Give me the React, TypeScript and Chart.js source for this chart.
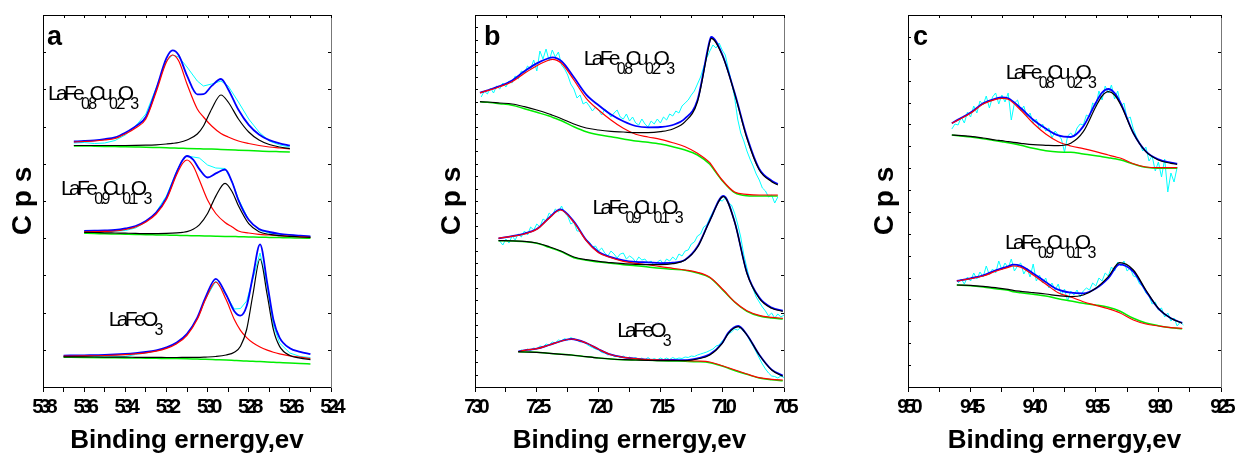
import React, { useEffect, useRef } from 'react';
import { Chart, registerables } from 'chart.js';

Chart.register(...registerables);

const FONT = "'Liberation Sans', Arial, Helvetica, sans-serif";
const X_TITLE = 'Binding ernergy,ev';
const Y_TITLE = 'C p s';
const CANVAS_H = 460;

// ================= Panel a : O 1s =================
const aTicks = [524, 525, 526, 527, 528, 529, 530, 531, 532, 533, 534, 535, 536, 537, 538];
const aTickLabels = [524, 526, 528, 530, 532, 534, 536, 538];

// LaFe0.8Cu0.2O3
const aTopX = [536.5, 536, 535.5, 535, 534.5, 534, 533.5, 533, 532.5, 532, 531.7, 531.4, 531, 530.5, 530.2, 529.8, 529.35, 529, 528.5, 528, 527.5, 527, 526.5, 526];
const aTopRaw = [244, 244.5, 243.5, 244, 246.5, 252, 261, 273, 299, 326, 332, 330, 320, 306, 301, 303, 306, 301, 285, 268, 255, 246, 242, 240];
const aTopEnv = [245.5, 246, 246.7, 247.9, 249.6, 254.3, 260.6, 270, 297.7, 328.8, 336.6, 331.7, 311.4, 292.7, 292.9, 301.1, 308, 297.8, 277.2, 262.1, 252.5, 246.9, 243.7, 241.3];
const aTopP1 = [245, 245.5, 246, 247, 248.5, 253, 259, 268, 295, 325, 332, 326, 303, 278, 270, 261, 253.5, 250, 246, 243.5, 241.5, 240, 239, 238];
const aTopP2 = [241.5, 241.5, 241.5, 241.5, 241.5, 241.5, 241.6, 241.8, 242.2, 243, 243.6, 244.5, 247, 253, 261, 278, 292, 285, 268, 255, 247, 242.5, 240, 238.3];
const aTopBg = [241, 241, 240.8, 240.6, 240.4, 240.2, 240, 239.8, 239.5, 239.2, 239, 238.8, 238.6, 238.3, 238.1, 237.9, 237.5, 237.2, 236.8, 236.4, 236, 235.6, 235.3, 235];

// LaFe0.9Cu0.1O3
const aMidX = [536, 535.5, 535, 534.5, 534, 533.5, 533, 532.5, 532, 531.5, 531.2, 531, 530.7, 530.4, 530, 529.6, 529.15, 528.8, 528.5, 528, 527.5, 527, 526.5, 526, 525.5, 525];
const aMidRaw = [155.5, 155, 155.5, 155.8, 156.5, 159, 165, 175, 191, 216, 228, 231, 230, 229, 222, 219, 218.5, 205, 188, 167, 157, 154, 152.5, 152, 151, 150.5];
const aMidEnv = [156.2, 156.4, 156.6, 157, 158.5, 161, 166, 174.3, 189.2, 214.9, 227.2, 231, 227.4, 217.9, 209.5, 213.6, 217.5, 204.5, 186.9, 167.2, 158.1, 155, 153.2, 152.1, 151.3, 150.6];
const aMidP1 = [155.2, 155.4, 155.6, 156, 157.5, 160, 165, 173, 187.5, 212.5, 224, 227, 221, 207, 187, 173.5, 164.5, 160, 156, 154, 152.6, 152, 151.3, 150.7, 150.2, 149.7];
const aMidP2 = [154.7, 154.5, 154.2, 154, 153.8, 153.6, 153.3, 153.4, 153.6, 154.1, 154.7, 155.4, 157.7, 162.1, 173.5, 190.9, 203.6, 195, 181.2, 163.3, 155.3, 152.6, 151.3, 150.6, 150, 149.6];
const aMidBg = [153.7, 153.5, 153.2, 153.0, 152.8, 152.6, 152.3, 152.1, 151.9, 151.7, 151.5, 151.4, 151.3, 151.2, 151.0, 150.8, 150.6, 150.5, 150.3, 150.1, 149.8, 149.6, 149.4, 149.2, 148.9, 148.7];

// LaFeO3
const aLowX = [537, 536, 535, 534, 533.5, 533, 532.5, 532, 531.5, 531, 530.5, 530.1, 529.6, 529.1, 528.7, 528.4, 528.1, 527.8, 527.45, 527.1, 526.8, 526.5, 526, 525.5, 525];
const aLowRaw = [30.5, 29.8, 31, 30.5, 32.5, 34, 36, 39, 43.5, 52.5, 68.5, 88, 106, 92, 78, 78.5, 86, 108, 134, 101, 62, 44, 34, 30.5, 29.5];
const aLowEnv = [31.4, 31.7, 32.1, 33.1, 33.9, 35, 36.7, 39.6, 44.4, 53.1, 69.4, 89.6, 108.2, 92.5, 75.8, 71.3, 80.9, 110.5, 142.6, 103.9, 67.4, 49.4, 38.8, 35.2, 32.8];
const aLowP1 = [30.9, 31.1, 31.5, 32.4, 33.2, 34.2, 35.8, 38.6, 43.3, 51.7, 67.7, 87.4, 105, 87.4, 67.5, 56.7, 49.4, 44.2, 40, 36.9, 34.8, 33.2, 31.2, 29.8, 28.5];
const aLowP2 = [30.2, 30.1, 29.9, 29.8, 29.7, 29.6, 29.6, 29.5, 29.5, 29.6, 29.6, 29.9, 30.5, 32, 34.8, 40.8, 57.5, 92, 128, 92, 57.3, 40.6, 31.5, 28.9, 27.3];
const aLowBg = [29.7, 29.5, 29.3, 29.1, 29, 28.8, 28.7, 28.5, 28.4, 28.2, 27.9, 27.7, 27.3, 26.9, 26.5, 26.2, 26, 25.7, 25.4, 25, 24.7, 24.4, 23.9, 23.5, 23];

// ================= Panel b : Fe 2p =================
const bTicks = [705, 707.5, 710, 712.5, 715, 717.5, 720, 722.5, 725, 727.5, 730];
const bTickLabels = [705, 710, 715, 720, 725, 730];

const bTopX = [729.6, 729, 728, 727, 726, 725, 724, 723.74, 723, 722, 721, 720, 719, 718, 717, 716, 715, 714, 713, 712, 711, 710.9, 710, 709, 708, 707, 706, 705.5];
const bTopEnv = [294.3, 296.6, 301, 306.6, 315.7, 323.6, 329, 329.7, 325.7, 309.7, 292.4, 281.7, 272.4, 265.7, 261, 259.6, 260, 262, 268.6, 287, 346.9, 350.2, 332.7, 294.4, 250.1, 218, 206.3, 203];
const bTopP1 = [294.3, 296.3, 300.3, 305.3, 313.7, 321.3, 327, 327.7, 323.7, 307, 288.7, 277, 267, 258.7, 252.7, 250, 247.7, 244.3, 240.3, 233.7, 224.3, 222.6, 207, 195, 192.7, 192, 192, 192];
const bTopP2 = [285.3, 285, 284, 283, 280.3, 277, 273, 271.8, 268.3, 263, 259, 257, 255.7, 255, 254.3, 254.3, 255.3, 258, 265.3, 285.3, 345.3, 348.7, 332, 293.7, 248.7, 217, 205.3, 202];
const bTopBg = [285.3, 284.7, 283.3, 281.7, 278.3, 274.7, 271, 269.8, 266.3, 260.3, 255.3, 252.3, 250.3, 248, 246, 244.7, 243, 240.3, 237, 232, 222.7, 221.1, 206.3, 194.3, 191.3, 191, 191, 191];
const bTopRawX = [729.5, 729.25, 729, 728.75, 728.5, 728.25, 728, 727.75, 727.5, 727.25, 727, 726.75, 726.5, 726.25, 726, 725.75, 725.5, 725.25, 725, 724.75, 724.5, 724.25, 724, 723.75, 723.5, 723.25, 723, 722.75, 722.5, 722.25, 722, 721.75, 721.5, 721.25, 721, 720.75, 720.5, 720.25, 720, 719.75, 719.5, 719.25, 719, 718.75, 718.5, 718.25, 718, 717.75, 717.5, 717.25, 717, 716.75, 716.5, 716.25, 716, 715.75, 715.5, 715.25, 715, 714.75, 714.5, 714.25, 714, 713.75, 713.5, 713.25, 713, 712.75, 712.5, 712.25, 712, 711.75, 711.5, 711.25, 711, 710.75, 710.5, 710.25, 710, 709.75, 709.5, 709.25, 709, 708.75, 708.5, 708.25, 708, 707.75, 707.5, 707.25, 707, 706.75, 706.5, 706.25, 706, 705.75, 705.5];
const bTopRaw = [290, 296, 293, 299, 294, 301, 298, 304, 300, 306, 304, 311, 308, 316, 314, 321, 318, 327, 316, 336, 328, 338, 326, 337, 330, 335, 322, 318, 312, 303, 298, 289, 292, 283, 285, 281, 276, 280, 277, 272, 278, 275, 270, 274, 277, 270, 268, 273, 266, 270, 264, 262, 268, 263, 260, 266, 263, 268, 264, 270, 267, 273, 271, 276, 274, 281, 284, 287, 292, 296, 303, 310, 320, 329, 336, 342, 339, 344, 337, 332, 318, 305, 290, 268, 254, 246, 236, 228, 221, 213, 207, 199, 196, 190, 192, 184, 190];

const bMidX = [728.1, 727, 726, 725, 724, 723.1, 722, 721, 720, 719, 718, 717, 716, 715, 714, 713, 712, 711, 709.9, 709, 708, 707, 706, 705.1];
const bMidEnv = [148.7, 150.9, 153.4, 158, 169.3, 177.6, 165.4, 146.9, 135, 129.9, 126.7, 125.1, 124.6, 123.9, 124.3, 127.3, 140.4, 166.7, 191, 165.6, 114.3, 89.4, 79.4, 76.4];
const bMidP1 = [148.7, 150.7, 153, 157.7, 168.7, 177, 164.7, 146.3, 134.3, 129.3, 125.7, 123.7, 122.3, 120.3, 118.7, 117, 114.7, 109.7, 97, 85.3, 76.3, 71.7, 69.7, 68.7];
const bMidP2 = [146.3, 146.2, 145.7, 144, 140.3, 136.3, 130, 127.3, 125.7, 124.3, 123.3, 122.7, 122.3, 122.3, 123.3, 127, 139.7, 166.3, 190.3, 165.3, 113.7, 88.7, 78.7, 75.7];
const bMidBg = [146.3, 146, 145.3, 143.7, 139.7, 135.7, 129.3, 126.7, 125, 123.7, 122.3, 121.3, 120, 118.7, 117.7, 116.7, 114, 109.3, 96.3, 85, 75.7, 71, 69, 68];
const bMidRawX = [728, 727.75, 727.5, 727.25, 727, 726.75, 726.5, 726.25, 726, 725.75, 725.5, 725.25, 725, 724.75, 724.5, 724.25, 724, 723.75, 723.5, 723.25, 723, 722.75, 722.5, 722.25, 722, 721.75, 721.5, 721.25, 721, 720.75, 720.5, 720.25, 720, 719.75, 719.5, 719.25, 719, 718.75, 718.5, 718.25, 718, 717.75, 717.5, 717.25, 717, 716.75, 716.5, 716.25, 716, 715.75, 715.5, 715.25, 715, 714.75, 714.5, 714.25, 714, 713.75, 713.5, 713.25, 713, 712.75, 712.5, 712.25, 712, 711.75, 711.5, 711.25, 711, 710.75, 710.5, 710.25, 710, 709.75, 709.5, 709.25, 709, 708.75, 708.5, 708.25, 708, 707.75, 707.5, 707.25, 707, 706.75, 706.5, 706.25, 706, 705.75, 705.5, 705.25, 705];
const bMidRaw = [146, 142, 148, 144, 151, 147, 153, 150, 156, 152, 160, 157, 163, 160, 168, 166, 174, 171, 178, 175, 181, 174, 171, 163, 165, 156, 156, 151, 147, 145, 140, 141, 136, 139, 134, 131, 136, 133, 129, 133, 134, 128, 131, 129, 125, 130, 127, 128, 124, 126, 121, 125, 127, 123, 128, 126, 130, 127, 133, 131, 136, 137, 143, 145, 151, 153, 160, 162, 169, 175, 181, 187, 186, 189, 184, 182, 174, 163, 150, 132, 119, 106, 98, 90, 85, 80, 76, 71, 74, 69, 73, 70, 72];

const bLowX = [726.5, 726, 725, 724, 723, 722.2, 721, 720, 719, 718, 717, 716, 715, 714, 713, 712, 711, 710, 709.5, 708.7, 708, 707, 706, 705.1];
const bLowEnv = [35.3, 36.7, 38.3, 42, 46, 48, 44, 37.7, 32.3, 29.7, 28.3, 27.3, 27, 27, 26.9, 28.7, 32.7, 44, 54.3, 61, 52.3, 32.3, 17.4, 11.4];
const bLowP1 = [35.3, 36.7, 38.3, 42, 46, 48, 44, 37.7, 32.3, 29.7, 28.3, 27.3, 27, 26.7, 26.3, 26, 25, 21.3, 19.3, 16, 13, 9.3, 7.7, 7];
const bLowP2 = [35.3, 35, 34.7, 33.7, 32.7, 32, 30.3, 29, 28, 27.3, 27, 26.7, 26.3, 26.3, 26.3, 28, 32, 43.7, 53.7, 60.3, 52, 32, 17, 10.7];
const bLowBg = [35.3, 35, 34.7, 33.7, 32.7, 32, 30.3, 29, 28, 27.3, 27, 26.7, 26.3, 26, 25.7, 25.3, 24.3, 21, 18.7, 15.3, 12.7, 9, 7.3, 6.3];
const bLowRawX = [726.5, 726.25, 726, 725.75, 725.5, 725.25, 725, 724.75, 724.5, 724.25, 724, 723.75, 723.5, 723.25, 723, 722.75, 722.5, 722.25, 722, 721.75, 721.5, 721.25, 721, 720.75, 720.5, 720.25, 720, 719.75, 719.5, 719.25, 719, 718.75, 718.5, 718.25, 718, 717.75, 717.5, 717.25, 717, 716.75, 716.5, 716.25, 716, 715.75, 715.5, 715.25, 715, 714.75, 714.5, 714.25, 714, 713.75, 713.5, 713.25, 713, 712.75, 712.5, 712.25, 712, 711.75, 711.5, 711.25, 711, 710.75, 710.5, 710.25, 710, 709.75, 709.5, 709.25, 709, 708.75, 708.5, 708.25, 708, 707.75, 707.5, 707.25, 707, 706.75, 706.5, 706.25, 706, 705.75, 705.5, 705.25, 705];
const bLowRaw = [35, 37, 35.5, 38, 36.5, 39, 38, 41, 40, 43, 42, 45, 44, 47, 46, 48.5, 47, 49.5, 48, 47, 45, 45.5, 43, 41, 39.5, 38, 37, 34.5, 34, 32, 33, 30.5, 31, 29.5, 31, 28.5, 30, 28, 29.5, 27.5, 29, 27, 29.5, 27, 28.5, 27, 29, 27.5, 29, 27.5, 29.5, 28, 29, 28.5, 30, 29.5, 31, 30.5, 32, 33, 34, 35, 36.5, 38, 41, 42, 46, 49, 53, 55, 58, 57, 59.5, 55, 52, 46, 41, 35, 29, 23, 18, 14, 11, 10.5, 9, 11, 9.5];

// ================= Panel c : Cu 2p =================
const cTicks = [925, 927.5, 930, 932.5, 935, 937.5, 940, 942.5, 945, 947.5, 950];
const cTickLabels = [925, 930, 935, 940, 945, 950];

const cTopX = [946.5, 946, 945, 944, 943, 942.5, 942, 941, 940, 939, 938, 937, 936, 935, 934.5, 934, 933.5, 933, 932, 931, 930, 929, 928.5];
const cTopEnv = [263.7, 267.4, 274.4, 283.7, 288.4, 289.7, 288.7, 279, 267.3, 258.4, 251.6, 250, 260.6, 284.3, 294.4, 298, 294, 283.7, 254, 235.6, 227.6, 224.3, 223.3];
const cTopP1 = [263.7, 267, 273.7, 283, 287.7, 288.7, 287.7, 277, 263.7, 253, 245.3, 241, 238.3, 235.3, 233.7, 232, 230.3, 228.7, 223.3, 220, 219.3, 219.3, 219.3];
const cTopP2 = [252, 251.7, 250.7, 249, 247, 246.3, 245.3, 243.7, 242.3, 241.7, 241.3, 243.7, 255.3, 280.3, 291, 295.3, 292, 282, 253.7, 235.3, 227, 223.7, 222.7];
const cTopBg = [252, 251.3, 250, 248.3, 246.3, 245.3, 244.3, 241.7, 238.7, 236.3, 235, 234.7, 233, 231.3, 230.3, 229.3, 228.3, 227, 223, 219.7, 218.7, 218.7, 218.7];
const cTopRawX = [946.5, 946.25, 946, 945.75, 945.5, 945.25, 945, 944.75, 944.5, 944.25, 944, 943.75, 943.5, 943.25, 943, 942.75, 942.5, 942.25, 942, 941.75, 941.5, 941.25, 941, 940.75, 940.5, 940.25, 940, 939.75, 939.5, 939.25, 939, 938.75, 938.5, 938.25, 938, 937.75, 937.5, 937.25, 937, 936.75, 936.5, 936.25, 936, 935.75, 935.5, 935.25, 935, 934.75, 934.5, 934.25, 934, 933.75, 933.5, 933.25, 933, 932.75, 932.5, 932.25, 932, 931.75, 931.5, 931.25, 931, 930.75, 930.5, 930.25, 930, 929.75, 929.5, 929.25, 929, 928.75, 928.5];
const cTopRaw = [258, 263, 262, 270, 264, 275, 270, 281, 274, 286, 282, 291, 279, 290, 294, 283, 292, 285, 294, 267, 284, 287, 276, 281, 270, 274, 264, 268, 258, 263, 256, 259, 249, 256, 252, 248, 235, 251, 254, 250, 259, 263, 262, 272, 270, 284, 281, 296, 287, 301, 294, 302, 288, 296, 281, 284, 268, 270, 258, 250, 244, 236, 240, 226, 231, 216, 225, 210, 228, 195, 214, 205, 220];

const cLowX = [946.1, 945, 944, 943, 942, 941.6, 941, 940, 939, 938, 937, 936, 935, 934, 933.1, 932, 931, 930, 929, 928.1];
const cLowEnv = [106, 108.7, 111.7, 116.7, 120.7, 122.4, 121.1, 113.6, 105, 97.3, 94.3, 93.6, 98.4, 108.9, 122.6, 115.3, 96, 78.4, 68.7, 64.1];
const cLowP1 = [106, 108.3, 111, 115.7, 119.7, 121, 119.7, 112, 103, 94.3, 90, 85.3, 81.7, 78.3, 74.3, 67, 63, 61, 59.3, 58.7];
const cLowP2 = [102, 101.7, 100.7, 99.3, 97.7, 96.7, 95.7, 94.3, 93, 91.3, 90.3, 92, 98.7, 110.3, 124.3, 117, 97, 78.7, 68.7, 63.7];
const cLowBg = [102, 101.3, 100, 98.3, 96.7, 95.3, 94.3, 92.7, 91, 88.3, 86, 83.7, 82, 79.7, 76, 68.7, 64, 61.3, 59.3, 58.3];
const cLowRawX = [946, 945.75, 945.5, 945.25, 945, 944.75, 944.5, 944.25, 944, 943.75, 943.5, 943.25, 943, 942.75, 942.5, 942.25, 942, 941.75, 941.5, 941.25, 941, 940.75, 940.5, 940.25, 940, 939.75, 939.5, 939.25, 939, 938.75, 938.5, 938.25, 938, 937.75, 937.5, 937.25, 937, 936.75, 936.5, 936.25, 936, 935.75, 935.5, 935.25, 935, 934.75, 934.5, 934.25, 934, 933.75, 933.5, 933.25, 933, 932.75, 932.5, 932.25, 932, 931.75, 931.5, 931.25, 931, 930.75, 930.5, 930.25, 930, 929.75, 929.5, 929.25, 929, 928.75, 928.5, 928.25, 928];
const cLowRaw = [104, 108, 103, 110, 106, 114, 108, 115, 110, 121, 112, 118, 114, 126, 117, 124, 119, 128, 116, 121, 124, 113, 119, 110, 123, 106, 112, 104, 109, 99, 104, 97, 103, 92, 98, 86, 96, 92, 97, 90, 96, 99, 97, 104, 101, 109, 106, 114, 111, 120, 116, 125, 121, 126, 116, 119, 111, 110, 103, 101, 94, 91, 83, 85, 77, 79, 70, 74, 66, 69, 61, 65, 62];

// sample names (text, isSubscript)
const F_08 = [['LaFe', 0], ['0.8', 1], ['Cu', 0], ['0.2', 1], ['O', 0], ['3', 1]];
const F_09 = [['LaFe', 0], ['0.9', 1], ['Cu', 0], ['0.1', 1], ['O', 0], ['3', 1]];
const F_00 = [['LaFeO', 0], ['3', 1]];

const Y_MIN = 0;
const Y_MAX = 372;

const COLORS = { raw: '#00FFFF', env: '#0000FF', p1: '#FF0000', p2: '#000000', bg: '#00EE00' };

function line(xs: number[], ys: number[], color: string, width: number, order: number, smooth: boolean) {
  return {
    data: xs.map((x, i) => ({ x, y: ys[i] })),
    borderColor: color,
    borderWidth: width,
    pointRadius: 0,
    fill: false,
    order,
    tension: 0,
    cubicInterpolationMode: smooth ? 'monotone' : 'default',
    borderJoinStyle: 'round',
    xAxisID: 'x',
    yAxisID: 'y',
  };
}

function spectrum(s: any) {
  return [
    line(s.rawX || s.x, s.raw, COLORS.raw, 1, 5, false),
    line(s.x, s.env, COLORS.env, 1.8, 4, true),
    line(s.x, s.bg, COLORS.bg, 1.5, 3, true),
    line(s.x, s.p1, COLORS.p1, 1.2, 2, true),
    line(s.x, s.p2, COLORS.p2, 1.2, 1, true),
  ];
}

const PANELS = [
  {
    left: 0, width: 425, padLeft: 2.5, yWidth: 40.5, rightWidth: 94,
    min: 524, max: 538, step: 1, ticks: aTicks, tickLabels: aTickLabels,
    leftDiv: 10, rightDiv: 10, letter: 'a', letterDx: 4,
    spectra: [
      { x: aTopX, raw: aTopRaw, env: aTopEnv, p1: aTopP1, p2: aTopP2, bg: aTopBg },
      { x: aMidX, raw: aMidRaw, env: aMidEnv, p1: aMidP1, p2: aMidP2, bg: aMidBg },
      { x: aLowX, raw: aLowRaw, env: aLowEnv, p1: aLowP1, p2: aLowP2, bg: aLowBg },
    ],
    labels: [
      { x: 537.76, y: 287, parts: F_08 },
      { x: 537.12, y: 192, parts: F_09 },
      { x: 534.8, y: 61, parts: F_00 },
    ],
  },
  {
    left: 425, width: 435, padLeft: 6.5, yWidth: 43.5, rightWidth: 76,
    min: 705, max: 730, step: 2.5, ticks: bTicks, tickLabels: bTickLabels,
    leftDiv: 30, rightDiv: 10, letter: 'b', letterDx: 9,
    spectra: [
      { x: bTopX, rawX: bTopRawX, raw: bTopRaw, env: bTopEnv, p1: bTopP1, p2: bTopP2, bg: bTopBg },
      { x: bMidX, rawX: bMidRawX, raw: bMidRaw, env: bMidEnv, p1: bMidP1, p2: bMidP2, bg: bMidBg },
      { x: bLowX, rawX: bLowRawX, raw: bLowRaw, env: bLowEnv, p1: bLowP1, p2: bLowP2, bg: bLowBg },
    ],
    labels: [
      { x: 721.2, y: 322, parts: F_08 },
      { x: 720.5, y: 173, parts: F_09 },
      { x: 718.5, y: 50.3, parts: F_00 },
    ],
  },
  {
    left: 860, width: 400, padLeft: 4.7, yWidth: 43.3, rightWidth: 39,
    min: 925, max: 950, step: 2.5, ticks: cTicks, tickLabels: cTickLabels,
    leftDiv: 17, rightDiv: 10, letter: 'c', letterDx: 5,
    spectra: [
      { x: cTopX, rawX: cTopRawX, raw: cTopRaw, env: cTopEnv, p1: cTopP1, p2: cTopP2, bg: cTopBg },
      { x: cLowX, rawX: cLowRawX, raw: cLowRaw, env: cLowEnv, p1: cLowP1, p2: cLowP2, bg: cLowBg },
    ],
    labels: [
      { x: 942.2, y: 308, parts: F_08 },
      { x: 942.25, y: 138, parts: F_09 },
    ],
  },
];

const decoPlugin = {
  id: 'deco',
  afterDatasetsDraw(chart: any, _args: any, opts: any) {
    const ctx = chart.ctx;
    const { left, right, top, bottom } = chart.chartArea;
    const xs = chart.scales.x;
    const ys = chart.scales.y;
    ctx.save();
    ctx.strokeStyle = '#000';
    ctx.lineWidth = 1;
    ctx.beginPath();
    for (let i = 1; i < opts.leftDiv; i++) {
      const y = Math.round(top + (i * (bottom - top)) / opts.leftDiv) + 0.5;
      ctx.moveTo(left, y);
      ctx.lineTo(left + 3, y);
    }
    for (let i = 1; i < opts.rightDiv; i++) {
      const y = Math.round(top + (i * (bottom - top)) / opts.rightDiv) + 0.5;
      ctx.moveTo(right - 3, y);
      ctx.lineTo(right, y);
    }
    for (const v of opts.ticks) {
      const x = Math.round(xs.getPixelForValue(v)) + 0.5;
      ctx.moveTo(x, top);
      ctx.lineTo(x, top + 3);
    }
    ctx.stroke();

    ctx.fillStyle = '#000';
    ctx.textBaseline = 'alphabetic';
    ctx.textAlign = 'left';
    ctx.letterSpacing = '0px';
    ctx.font = `bold 27px ${FONT}`;
    ctx.fillText(opts.letter, left + opts.letterDx, top + 30);

    for (const lab of opts.labels) {
      let x = xs.getPixelForValue(lab.x);
      const y = ys.getPixelForValue(lab.y);
      for (const [txt, sub] of lab.parts) {
        if (sub) {
          ctx.font = `16px ${FONT}`;
          ctx.letterSpacing = '-3px';
          ctx.fillText(txt, x, y + 9);
          x += ctx.measureText(txt).width * 0.65;
        } else {
          ctx.font = `21px ${FONT}`;
          ctx.letterSpacing = '-3.7px';
          ctx.fillText(txt, x, y);
          x += ctx.measureText(txt).width;
        }
      }
    }
    ctx.restore();
    // condensed tick labels (drawn after datasets, z = 1)
    ctx.letterSpacing = '-4px';
  },
  afterDraw(chart: any) {
    chart.ctx.letterSpacing = '0px';
  },
};

function buildConfig(p: any) {
  const datasets = p.spectra.flatMap((s: any) => spectrum(s));
  const axisH = CANVAS_H - 387;
  return {
    type: 'line',
    data: { datasets },
    options: {
      animation: false,
      responsive: false,
      maintainAspectRatio: false,
      events: [],
      layout: { padding: { left: p.padLeft, right: 0, top: 0, bottom: 0 } },
      plugins: {
        legend: { display: false },
        tooltip: { enabled: false },
        deco: { leftDiv: p.leftDiv, rightDiv: p.rightDiv, ticks: p.ticks, letter: p.letter, letterDx: p.letterDx, labels: p.labels },
      },
      scales: {
        x: {
          type: 'linear', position: 'bottom', reverse: true, min: p.min, max: p.max,
          ticks: {
            stepSize: p.step, autoSkip: false, maxRotation: 0, minRotation: 0, padding: 3, z: 1,
            color: '#000', font: { family: FONT, size: 20, weight: 'bold' },
            callback: (v: any) => (p.tickLabels.includes(Number(v)) ? String(v) : ''),
          },
          grid: { display: true, drawOnChartArea: false, drawTicks: true, tickLength: 5, color: '#000', lineWidth: 1 },
          border: { display: true, color: '#000', width: 1 },
          title: { display: true, text: X_TITLE, color: '#000', font: { family: FONT, size: 26, weight: 'bold' }, padding: { top: 0, bottom: 4 } },
          afterFit: (s: any) => { s.height = axisH; },
        },
        xTop: {
          type: 'linear', position: 'top', reverse: true, min: p.min, max: p.max,
          ticks: { display: false }, grid: { display: false },
          border: { display: true, color: '#000', width: 1 },
          afterFit: (s: any) => { s.height = 15; },
        },
        y: {
          type: 'linear', position: 'left', min: Y_MIN, max: Y_MAX,
          ticks: { display: false }, grid: { display: false },
          border: { display: true, color: '#000', width: 1 },
          title: { display: true, text: Y_TITLE, color: '#000', font: { family: FONT, size: 28, weight: 'bold' }, padding: { top: 4, bottom: 4 } },
          afterFit: (s: any) => { s.width = p.yWidth; },
        },
        yRight: {
          type: 'linear', position: 'right', min: Y_MIN, max: Y_MAX,
          ticks: { display: false }, grid: { display: false },
          border: { display: true, color: '#777', width: 1 },
          afterFit: (s: any) => { s.width = p.rightWidth; },
        },
      },
    },
    plugins: [decoPlugin],
  };
}

function Panel({ p }: { p: any }) {
  const ref = useRef<HTMLCanvasElement | null>(null);
  useEffect(() => {
    const chart = new Chart(ref.current as HTMLCanvasElement, buildConfig(p) as any);
    return () => chart.destroy();
  }, [p]);
  return (
    <canvas
      ref={ref}
      width={p.width}
      height={CANVAS_H}
      style={{ position: 'absolute', left: p.left, top: 0, width: p.width, height: CANVAS_H }}
    />
  );
}

export default function App() {
  return (
    <div style={{ position: 'fixed', left: 0, top: 0, width: 1237, height: 453, overflow: 'hidden', background: '#fff' }}>
      {PANELS.map((p, i) => (
        <Panel key={i} p={p} />
      ))}
    </div>
  );
}
